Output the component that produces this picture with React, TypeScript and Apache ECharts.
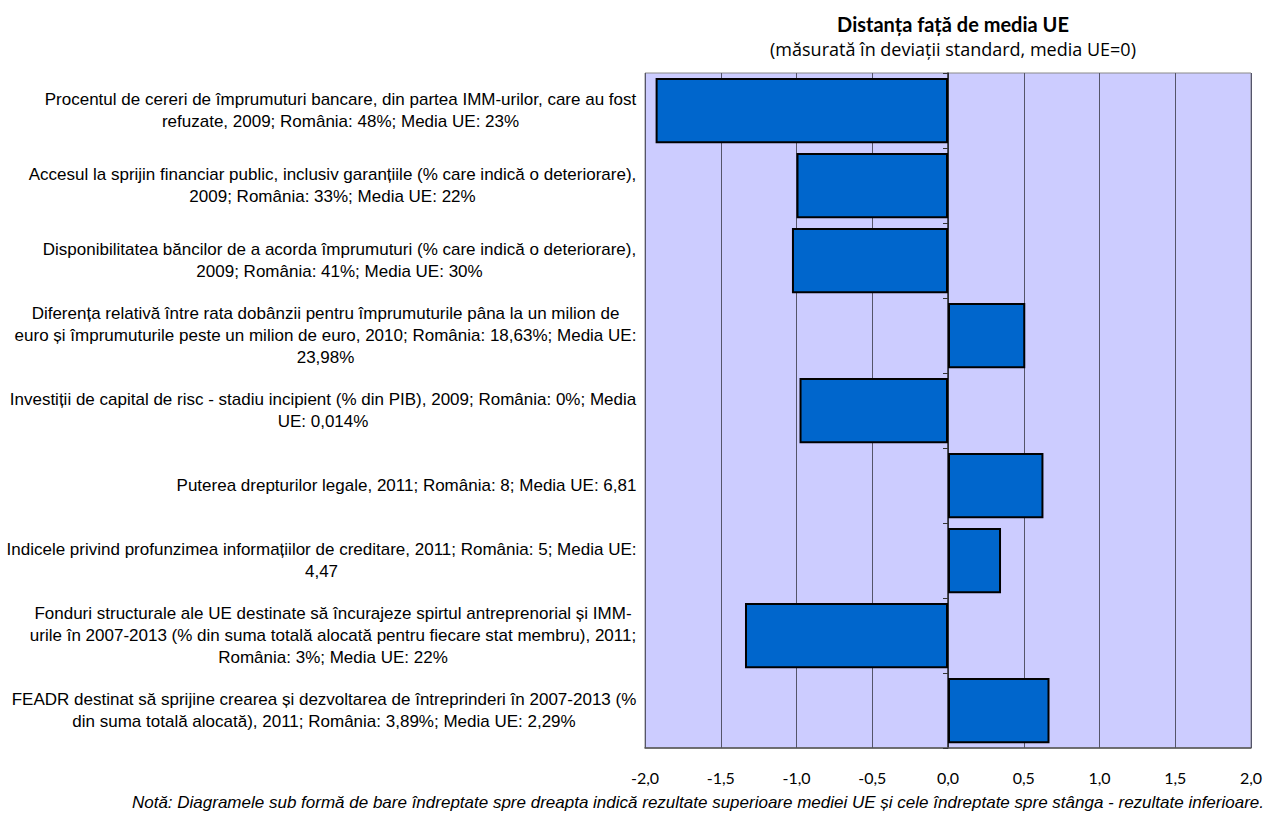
import React, { useEffect, useRef } from "react";
import * as echarts from "echarts";

const categories: string[] = [
  "Procentul de cereri de împrumuturi bancare, din partea IMM-urilor, care au fost\nrefuzate, 2009; România: 48%; Media UE: 23%",
  "Accesul la sprijin financiar public, inclusiv garanțiile (% care indică o deteriorare),\n2009; România: 33%; Media UE: 22%",
  "Disponibilitatea băncilor de a acorda împrumuturi (% care indică o deteriorare),\n2009; România: 41%; Media UE: 30%",
  "Diferența relativă între rata dobânzii pentru împrumuturile pâna la un milion de\neuro și împrumuturile peste un milion de euro, 2010; România: 18,63%; Media UE:\n23,98%",
  "Investiții de capital de risc - stadiu incipient (% din PIB), 2009; România: 0%; Media\nUE: 0,014%",
  "Puterea drepturilor legale, 2011; România: 8; Media UE: 6,81",
  "Indicele privind profunzimea informațiilor de creditare, 2011; România: 5; Media UE:\n4,47",
  "Fonduri structurale ale UE destinate să încurajeze spirtul antreprenorial și IMM-\nurile în 2007-2013 (% din suma totală alocată pentru fiecare stat membru), 2011;\nRomânia: 3%; Media UE: 22%",
  "FEADR destinat să sprijine crearea și dezvoltarea de întreprinderi în 2007-2013 (%\ndin suma totală alocată), 2011; România: 3,89%; Media UE: 2,29%",
];

const values: number[] = [-1.93, -1.0, -1.03, 0.51, -0.98, 0.63, 0.35, -1.34, 0.67];

const titleText = "Distanța față de media UE";
const subtitleText = "(măsurată în deviații standard, media UE=0)";
const noteText =
  "Notă: Diagramele sub formă de bare îndreptate spre dreapta indică rezultate superioare mediei UE și cele îndreptate spre stânga - rezultate inferioare.";

export default function App() {
  const ref = useRef<HTMLDivElement>(null);
  useEffect(() => {
    if (!ref.current) return;
    const chart = echarts.init(ref.current, undefined, { renderer: "svg" });
    const catFont = "'Liberation Sans', Arial, sans-serif";
    const catSize = 17;
    const ctx = document.createElement("canvas").getContext("2d");
    if (ctx) ctx.font = `${catSize}px ${catFont}`;
    const rich: Record<string, any> = {};
    categories.forEach((c, i) => {
      const w = Math.max(
        ...c.split("\n").map((l) => (ctx ? ctx.measureText(l).width : 600))
      );
      rich["r" + i] = {
        width: Math.ceil(w) + 1,
        align: "center",
        fontSize: catSize,
        lineHeight: 22,
        fontFamily: catFont,
        color: "#000",
      };
    });
    chart.setOption({
      animation: false,
      backgroundColor: "#ffffff",
      title: {
        text: titleText,
        subtext: subtitleText,
        left: 948,
        textAlign: "center",
        top: 9,
        itemGap: 6,
        textStyle: {
          fontFamily: "Lato, 'Liberation Sans', sans-serif",
          fontWeight: "bold",
          fontSize: 20,
          color: "#000",
        },
        subtextStyle: {
          fontFamily: "'Open Sans', 'Liberation Sans', sans-serif",
          fontSize: 18,
          color: "#000",
        },
      },
      grid: {
        left: 645,
        right: 16,
        top: 73,
        bottom: 71,
        show: true,
        backgroundColor: "#CCCCFF",
        borderColor: "#8a8a8a",
        borderWidth: 1,
      },
      xAxis: {
        type: "value",
        min: -2,
        max: 2,
        interval: 0.5,
        axisLine: { show: true, onZero: false, lineStyle: { color: "#555", width: 1.5 } },
        axisTick: { show: false },
        splitLine: { show: true, lineStyle: { color: "#55556a", width: 1 } },
        axisLabel: {
          margin: 21,
          fontSize: 16,
          color: "#000",
          fontFamily: "Lato, 'Liberation Sans', sans-serif",
          formatter: (v: number) => v.toFixed(1).replace(".", ","),
        },
      },
      yAxis: [
        {
          type: "category",
          data: categories,
          inverse: true,
          position: "left",
          axisLine: { show: false, onZero: false },
          axisTick: { show: false },
          splitLine: { show: false },
          axisLabel: {
            margin: 8,
            align: "right",
            formatter: (v: string, idx: number) =>
              v
                .split("\n")
                .map((l) => "{r" + idx + "|" + l + "}")
                .join("\n"),
            rich,
          },
        },
        {
          type: "category",
          data: categories,
          inverse: true,
          position: "left",
          axisLine: { show: true, onZero: true, lineStyle: { color: "#222", width: 1.5 } },
          axisTick: { show: true, length: 5, inside: false, lineStyle: { color: "#333" } },
          axisLabel: { show: false },
          splitLine: { show: false },
        },
      ],
      series: [
        {
          type: "bar",
          yAxisIndex: 0,
          data: values,
          barCategoryGap: "13%",
          itemStyle: { color: "#0066CC", borderColor: "#000", borderWidth: 2 },
        },
      ],
      graphic: [
        {
          type: "text",
          right: 3,
          top: 794,
          style: {
            text: noteText,
            fontFamily: "'Liberation Sans', Arial, sans-serif",
            fontStyle: "italic",
            fontSize: 17,
            fill: "#000",
          },
        },
      ],
    });
    return () => chart.dispose();
  }, []);
  return (
    <div
      ref={ref}
      style={{ position: "fixed", left: 0, top: 0, width: 1267, height: 819 }}
    />
  );
}
